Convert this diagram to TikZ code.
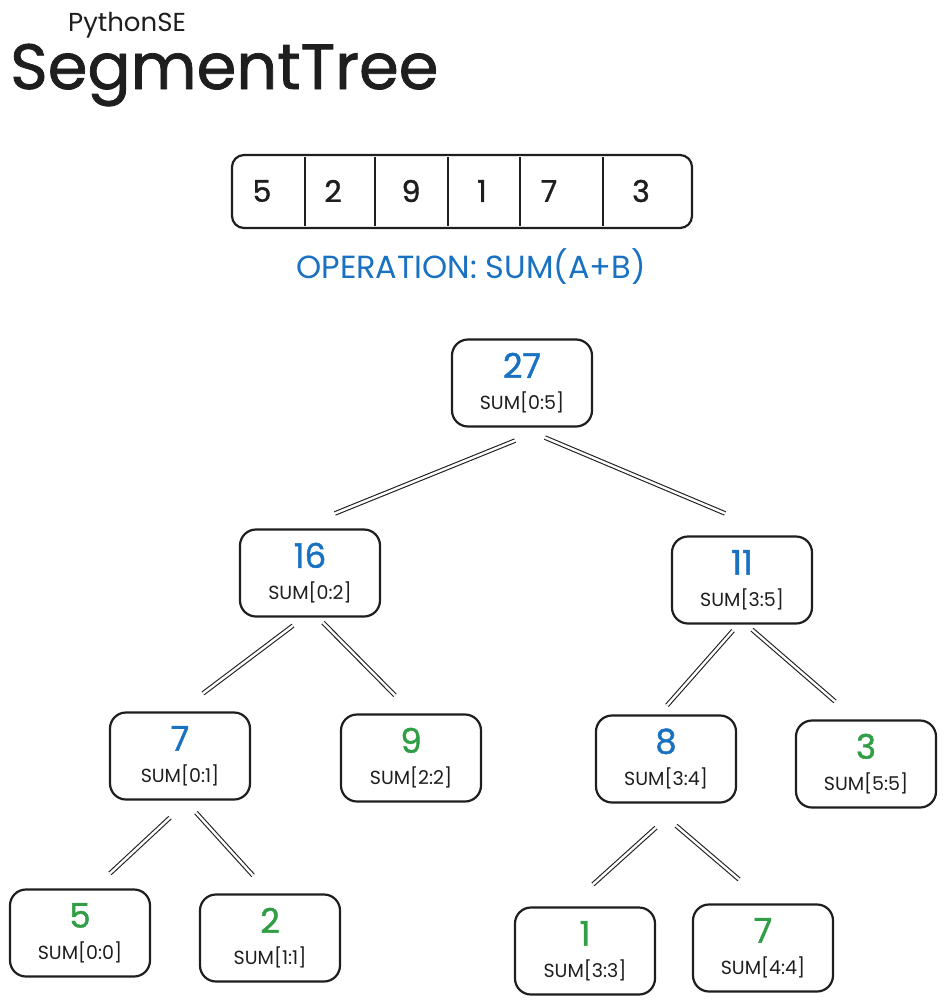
\documentclass[tikz,border=0pt]{standalone}
\usepackage{fontspec}
\setmainfont{Poppins}
\newfontfamily\handfont{Poppins}[FakeBold=1.2]
\usepackage{xcolor}
\usepackage{tikz}
\usetikzlibrary{calc,positioning}
\definecolor{inkx}{HTML}{1E1E1E}
\definecolor{bluex}{HTML}{1971C2}
\definecolor{greenx}{HTML}{2F9E44}
\tikzset{
  seg/.style={draw=inkx,line width=2.2pt,rounded corners=16pt,minimum width=140pt,minimum height=87pt,align=center,inner sep=0pt},
  link/.style={draw=inkx,line width=1.1pt,double,double distance=2.4pt},
  cell/.style={font=\handfont\fontsize{30}{30}\selectfont,text=inkx},
  sep/.style={inkx,line width=1.8pt}
}
\newcommand{\segtxt}[3]{{\color{#1}\handfont\fontsize{34}{34}\selectfont #2}\\[13pt]{\color{inkx}\fontsize{19}{19}\selectfont SUM[#3]}}

\begin{document}
\begin{tikzpicture}[x=1pt,y=-1pt]
\useasboundingbox (0,0) rectangle (944,1004);
% title
\node[anchor=base west,inner sep=0pt,font=\handfont\fontsize{64}{64}\selectfont,text=inkx] (title) at (10,89) {SegmentTree};
\node[anchor=base west,inner sep=0pt,font=\fontsize{26}{26}\selectfont,text=inkx] (brand) at (68,31) {PythonSE};
% array
\draw[inkx,line width=2.2pt,rounded corners=12pt] (232,155) rectangle (692,228);
\foreach \x in {305,375,448,520,603} \draw[sep] (\x,157) -- (\x,226);
\foreach \x/\v/\n in {262/5/0,333/2/1,411/9/2,482/1/3,549/7/4,641/3/5}
  \node[cell] (a\n) at (\x,191) {\v};
\node[font=\fontsize{32}{32}\selectfont,text=bluex] (op) at (471,267) {OPERATION: SUM(A+B)};
% tree
\node[seg] (n05) at (522,383) {\segtxt{bluex}{27}{0:5}};
\node[seg] (n02) at (310,573) {\segtxt{bluex}{16}{0:2}};
\node[seg] (n35) at (742,580) {\segtxt{bluex}{11}{3:5}};
\node[seg] (n01) at (180,756) {\segtxt{bluex}{7}{0:1}};
\node[seg] (n22) at (411,758) {\segtxt{greenx}{9}{2:2}};
\node[seg] (n34) at (666,759) {\segtxt{bluex}{8}{3:4}};
\node[seg] (n55) at (866,764) {\segtxt{greenx}{3}{5:5}};
\node[seg] (n00) at (80,933) {\segtxt{greenx}{5}{0:0}};
\node[seg] (n11) at (270,938) {\segtxt{greenx}{2}{1:1}};
\node[seg] (n33) at (585,951) {\segtxt{greenx}{1}{3:3}};
\node[seg] (n44) at (763,948) {\segtxt{greenx}{7}{4:4}};
% links
\draw[link] ([xshift=-7pt,yshift=-13pt]n05.south) -- ([xshift=25pt,yshift=15pt]n02.north);
\draw[link] ([xshift=23pt,yshift=-10pt]n05.south) -- ([xshift=-17pt,yshift=22pt]n35.north);
\draw[link] ([xshift=-17pt,yshift=-8pt]n02.south) -- ([xshift=23pt,yshift=18pt]n01.north);
\draw[link] ([xshift=13pt,yshift=-5pt]n02.south) -- ([xshift=-16pt,yshift=18pt]n22.north);
\draw[link] ([xshift=-9pt,yshift=-6pt]n35.south) -- ([xshift=1pt,yshift=9pt]n34.north);
\draw[link] ([xshift=10pt,yshift=-5pt]n35.south) -- ([xshift=-31pt,yshift=18pt]n55.north);
\draw[link] ([xshift=-10pt,yshift=-17pt]n01.south) -- ([xshift=30pt,yshift=15pt]n00.north);
\draw[link] ([xshift=16pt,yshift=-12pt]n01.south) -- ([xshift=-17pt,yshift=18pt]n11.north);
\draw[link] ([xshift=-10pt,yshift=-24pt]n34.south) -- ([xshift=8pt,yshift=22pt]n33.north);
\draw[link] ([xshift=10pt,yshift=-22pt]n34.south) -- ([xshift=-24pt,yshift=24pt]n44.north);
\end{tikzpicture}
\end{document}
